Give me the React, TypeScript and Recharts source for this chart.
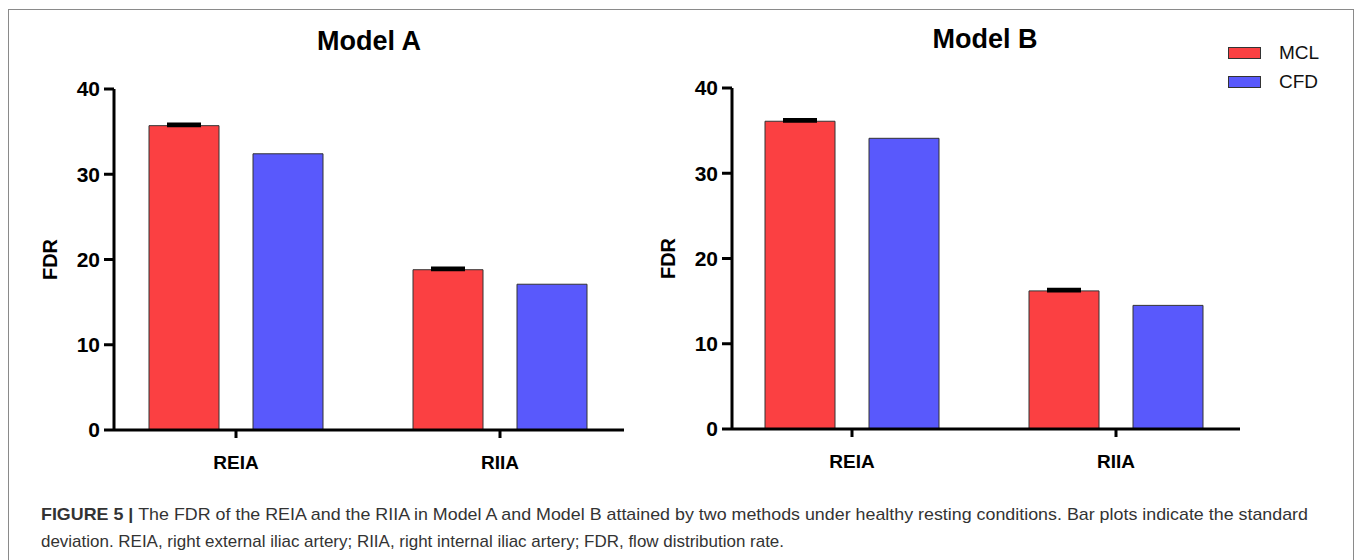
import { BarChart, Bar, XAxis, YAxis, ErrorBar } from 'recharts';

const categories = ['REIA', 'RIIA'];
const seriesNames = ['MCL', 'CFD'];
const seriesColors = ['#FB4042', '#5959FC'];
const yTicks = [0, 10, 20, 30, 40];

// Model A
const modelAMcl = [35.7, 18.8];
const modelAMclSd = [0.2, 0.2];
const modelACfd = [32.4, 17.1];

// Model B
const modelBMcl = [36.1, 16.2];
const modelBMclSd = [0.2, 0.2];
const modelBCfd = [34.1, 14.5];

const buildRows = (mcl: number[], sd: number[], cfd: number[]) =>
  categories.map((name, i) => ({
    name,
    MCL: mcl[i],
    CFD: cfd[i],
    mclErr: [0, sd[i]],
  }));

const dataA = buildRows(modelAMcl, modelAMclSd, modelACfd);
const dataB = buildRows(modelBMcl, modelBMclSd, modelBCfd);

const FONT = '"Liberation Sans", Arial, Helvetica, sans-serif';

// legend is drawn outside the chart so it doesn't shift the plot area
const SeriesLegend = () => (
  <div style={{ position: 'absolute', left: 1228, top: 38, fontFamily: FONT }}>
    {seriesNames.map((s, i) => (
      <div key={s} style={{ display: 'flex', alignItems: 'center', height: 29 }}>
        <div
          style={{
            width: 31,
            height: 10,
            background: seriesColors[i],
            border: '1px solid #333',
          }}
        />
        <span style={{ marginLeft: 18, fontSize: 19, color: '#111' }}>{s}</span>
      </div>
    ))}
  </div>
);

interface PanelProps {
  data: any[];
  left: number;
  marginTop: number;
  marginBottom: number;
  marginRight: number;
  padLeft: number;
  padRight: number;
}

const Panel = ({ data, left, marginTop, marginBottom, marginRight, padLeft, padRight }: PanelProps) => (
  <div style={{ position: 'absolute', left, top: 0 }}>
    <BarChart
      width={640}
      height={480}
      data={data}
      margin={{ top: marginTop, right: marginRight, bottom: marginBottom, left: 0 }}
      barSize={70}
      barGap={34}
    >
      <XAxis
        dataKey="name"
        height={40}
        padding={{ left: padLeft, right: padRight }}
        axisLine={{ stroke: '#000', strokeWidth: 3 }}
        tickLine={{ stroke: '#000', strokeWidth: 3 }}
        tickSize={8}
        tickMargin={18}
        tick={{ fill: '#000', fontSize: 19, fontWeight: 700, fontFamily: FONT }}
      />
      <YAxis
        width={114}
        domain={[0, 40]}
        ticks={yTicks}
        interval={0}
        axisLine={{ stroke: '#000', strokeWidth: 3 }}
        tickLine={{ stroke: '#000', strokeWidth: 3 }}
        tickSize={10}
        tickMargin={4}
        tick={{ fill: '#000', fontSize: 21, fontWeight: 700, fontFamily: FONT }}
        label={{
          value: 'FDR',
          angle: -90,
          position: 'center',
          dx: -7,
          style: { fill: '#000', fontSize: 20, fontWeight: 700, fontFamily: FONT },
        }}
      />
      <Bar dataKey="MCL" fill={seriesColors[0]} stroke="#333" strokeWidth={1} isAnimationActive={false}>
        <ErrorBar dataKey="mclErr" width={17} stroke="#000" strokeWidth={3} />
      </Bar>
      <Bar dataKey="CFD" fill={seriesColors[1]} stroke="#333" strokeWidth={1} isAnimationActive={false} />
    </BarChart>
  </div>
);

export default function App() {
  return (
    <div style={{ position: 'absolute', left: 0, top: 0, width: 1357, height: 560, background: '#fff', overflow: 'hidden' }}>
      <Panel data={dataA} left={0} marginTop={89} marginBottom={10} marginRight={16} padLeft={-10} padRight={-8} />
      <Panel data={dataB} left={618} marginTop={88} marginBottom={11} marginRight={18} padLeft={-12} padRight={-8} />
      <SeriesLegend />
      <svg width={1357} height={560} style={{ position: 'absolute', left: 0, top: 0, pointerEvents: 'none' }}>
        <rect x={8.5} y={9.5} width={1345} height={600} fill="none" stroke="#8a8a8a" strokeWidth={1} />
        <text x={369} y={50} textAnchor="middle" fontFamily={FONT} fontSize={27} fontWeight={700} fill="#000">
          Model A
        </text>
        <text x={985} y={48} textAnchor="middle" fontFamily={FONT} fontSize={27} fontWeight={700} fill="#000">
          Model B
        </text>
        <text x={41} y={520} fontFamily={FONT} fontSize={17} fill="#333" textLength={1267} lengthAdjust="spacingAndGlyphs">
          <tspan fontWeight={700}>FIGURE 5 | </tspan>
          The FDR of the REIA and the RIIA in Model A and Model B attained by two methods under healthy resting conditions. Bar plots indicate the standard
        </text>
        <text x={41} y={547} fontFamily={FONT} fontSize={17} fill="#333" textLength={743} lengthAdjust="spacingAndGlyphs">
          deviation. REIA, right external iliac artery; RIIA, right internal iliac artery; FDR, flow distribution rate.
        </text>
      </svg>
    </div>
  );
}
